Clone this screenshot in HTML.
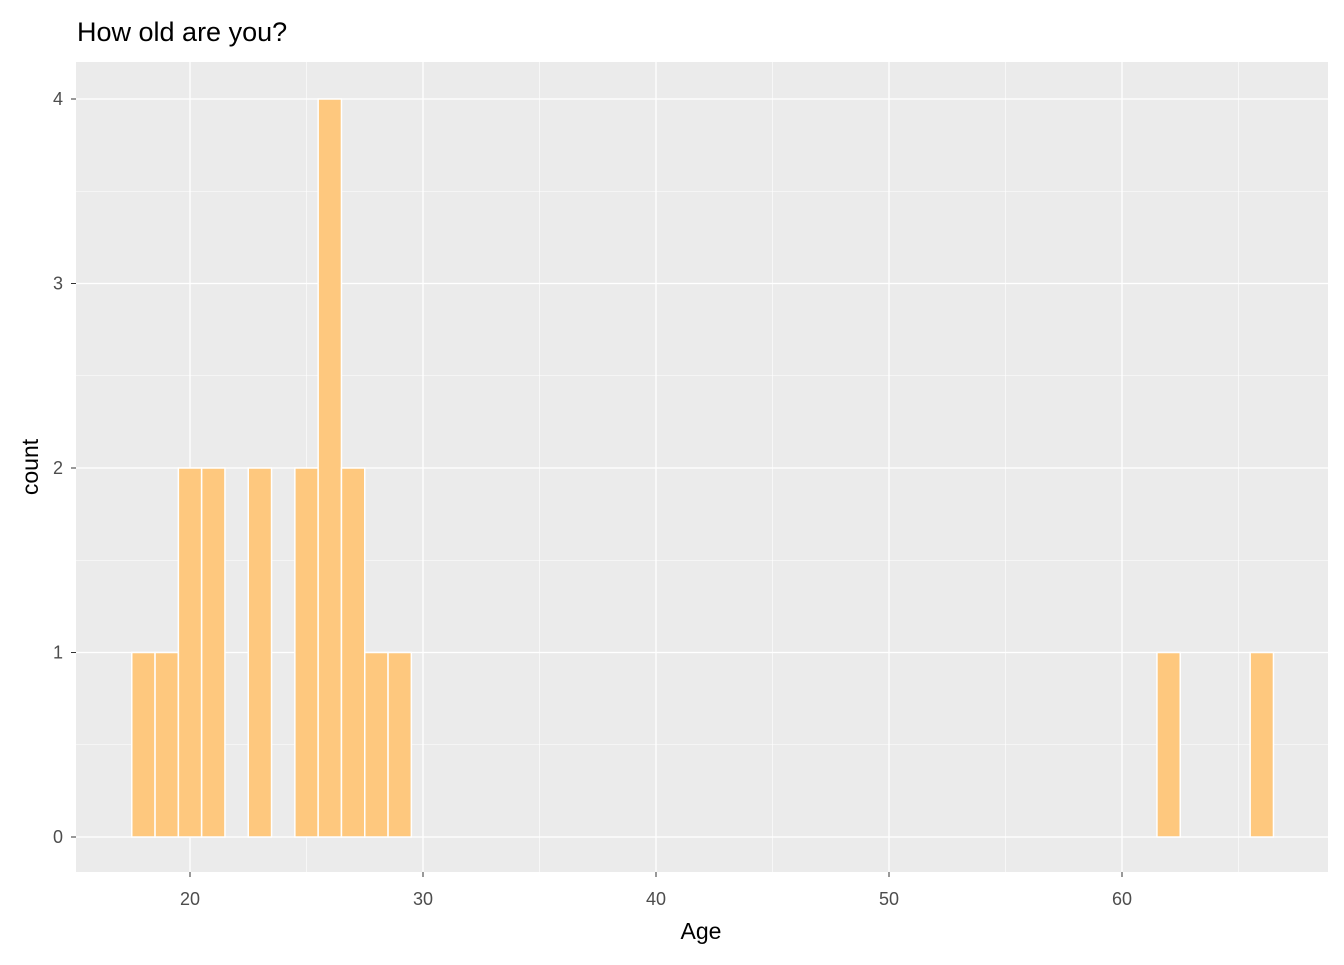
<!DOCTYPE html>
<html><head><meta charset="utf-8"><style>
body{margin:0;background:#fff;font-family:"Liberation Sans",Arial,sans-serif}
</style></head><body>
<svg id="chart" width="1344" height="960" xmlns="http://www.w3.org/2000/svg">
<text x="77" y="41" font-size="27" fill="#000">How old are you?</text>
<rect x="76" y="62" width="1252" height="810" fill="#ebebeb"/>
<g id="grid"></g>
<g id="bars"></g>
<g id="axes"></g>
<text x="701" y="939" font-size="23" text-anchor="middle" fill="#000">Age</text>
<text transform="translate(38,467) rotate(-90)" font-size="23" text-anchor="middle" fill="#000">count</text>
</svg>
<script>
const ages=[18,19,20,21,23,25,26,27,28,29,62,66];
const counts=[1,1,2,2,2,2,4,2,1,1,1,1];
const xTicks=[20,30,40,50,60];
const yTicks=[0,1,2,3,4];
const ns="http://www.w3.org/2000/svg";
const xs=v=>190+(v-20)*23.3;
const ys=v=>837-v*184.5;
const grid=document.getElementById('grid'),bars=document.getElementById('bars'),axes=document.getElementById('axes');
function mk(tag,attrs,parent){const e=document.createElementNS(ns,tag);for(const k in attrs)e.setAttribute(k,attrs[k]);parent.appendChild(e);return e;}
for(let v=15;v<=65;v+=10){const l=mk('line',{x1:xs(v),x2:xs(v),y1:62,y2:872,stroke:'#fff','stroke-width':0.6},grid);

}
for(let v=0.5;v<4.2;v+=1){const l=mk('line',{x1:76,x2:1328,y1:ys(v),y2:ys(v),stroke:'#fff','stroke-width':0.6},grid);

}
xTicks.forEach(v=>{const l=mk('line',{x1:xs(v),x2:xs(v),y1:62,y2:872,stroke:'#fff','stroke-width':1.3},grid);


const t=mk('line',{x1:xs(v),x2:xs(v),y1:872,y2:877,stroke:'#333','stroke-width':1},axes);


const tx=mk('text',{x:xs(v),y:905,'font-size':18,'text-anchor':'middle',fill:'#4d4d4d'},axes);tx.textContent=v;

});
yTicks.forEach(v=>{const l=mk('line',{x1:76,x2:1328,y1:ys(v),y2:ys(v),stroke:'#fff','stroke-width':1.3},grid);


const t=mk('line',{x1:71,x2:76,y1:ys(v),y2:ys(v),stroke:'#333','stroke-width':1},axes);


const tx=mk('text',{x:63,y:ys(v)+6,'font-size':18,'text-anchor':'end',fill:'#4d4d4d'},axes);tx.textContent=v;

});
ages.forEach((a,i)=>{const r=mk('rect',{x:xs(a-0.5),y:ys(counts[i]),width:23.3,height:ys(0)-ys(counts[i]),fill:'#fec87e',stroke:'#fff','stroke-width':1.5},bars);

});
</script>
</body></html>
